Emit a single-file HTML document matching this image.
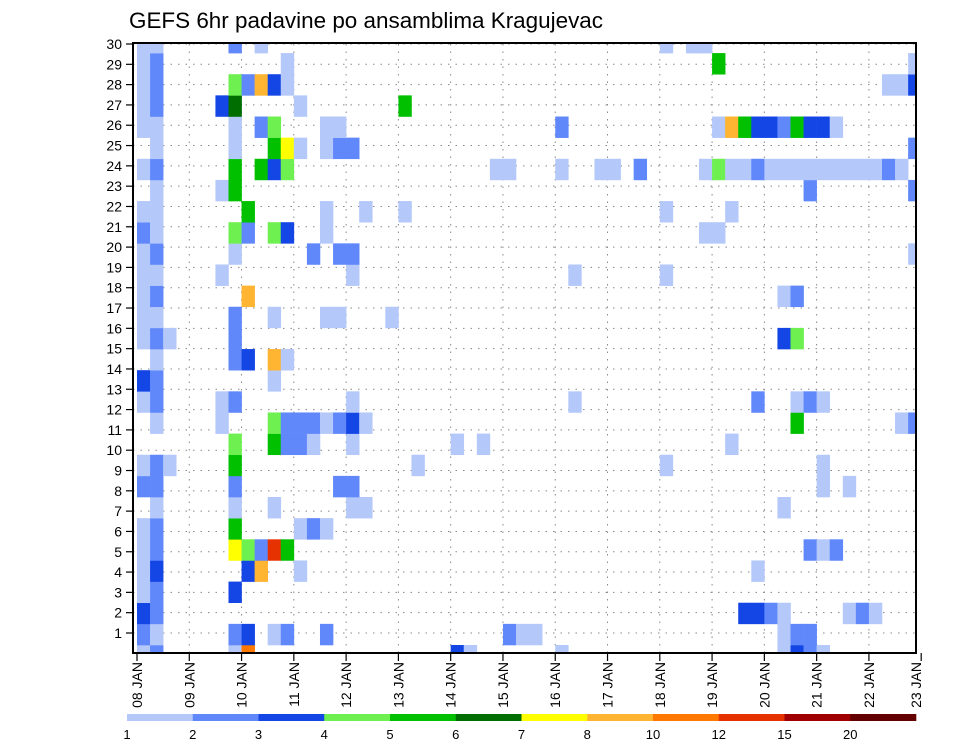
<!DOCTYPE html>
<html><head><meta charset="utf-8"><title>GEFS 6hr padavine</title>
<style>
html,body{margin:0;padding:0;background:#fff;}
svg{display:block;font-family:"Liberation Sans",sans-serif;}
</style></head>
<body>
<svg id="chart" width="960" height="742" viewBox="0 0 960 742">
<text x="129" y="28" font-size="22" fill="#000" textLength="474" lengthAdjust="spacingAndGlyphs">GEFS 6hr padavine po ansamblima Kragujevac</text>
<defs><clipPath id="plotclip"><rect x="133" y="43" width="783" height="610"/></clipPath></defs>
<g id="grid"></g>
<g id="cells" clip-path="url(#plotclip)"></g>
<rect x="133" y="43" width="783" height="610" fill="none" stroke="#000" stroke-width="2"/>
<g id="yaxis"></g>
<g id="xaxis"></g>
<g id="colorbar"></g>
</svg>
<script>
// ---- data ----
const dayLabels = ["08","09","10","11","12","13","14","15","16","17","18","19","20","21","22","23"];
const memberTicks = [1,2,3,4,5,6,7,8,9,10,11,12,13,14,15,16,17,18,19,20,21,22,23,24,25,26,27,28,29,30];
const levelBounds = [1,2,3,4,5,6,7,8,10,12,15,20];
const levelColors = ["#b4c8fa","#6088fa","#1446e6","#6ef050","#00c000","#006e00","#ffff00","#ffb432","#ff7800","#e63200","#a00000","#640000"];
// cells: [member, 6h step index from 08 JAN 00Z, precipitation mm]
const cellMember = [];
const cellStep = [];
const cellPrecip = [];
const rows = [
"0:0=1.5,1=2.5,7=1.5,8=11,24=3.5,25=1.5,32=1.5,49=1.5,50=3.5,51=2.5,52=1.5",
"1:0=2.5,1=1.5,7=2.5,8=3.5,10=1.5,11=2.5,14=2.5,28=2.5,29=1.5,30=1.5,49=1.5,50=2.5,51=2.5",
"2:0=3.5,1=2.5,46=3.5,47=3.5,48=2.5,49=1.5,54=1.5,55=2.5,56=1.5",
"3:0=1.5,1=2.5,7=3.5",
"4:0=1.5,1=3.5,8=3.5,9=9,12=1.5,47=1.5",
"5:0=1.5,1=2.5,7=7.5,8=4.5,9=2.5,10=13.5,11=5.5,51=2.5,52=1.5,53=2.5",
"6:0=1.5,1=2.5,7=5.5,12=1.5,13=2.5,14=1.5",
"7:1=1.5,7=1.5,10=1.5,16=1.5,17=1.5,49=1.5",
"8:0=2.5,1=2.5,7=2.5,15=2.5,16=2.5,52=1.5,54=1.5",
"9:0=1.5,1=2.5,2=1.5,7=5.5,21=1.5,40=1.5,52=1.5",
"10:7=4.5,10=5.5,11=2.5,12=2.5,13=1.5,16=1.5,24=1.5,26=1.5,45=1.5",
"11:1=1.5,6=1.5,10=4.5,11=2.5,12=2.5,13=2.5,14=1.5,15=2.5,16=3.5,17=1.5,50=5.5,58=1.5,59=2.5",
"12:0=1.5,1=2.5,6=1.5,7=2.5,16=1.5,33=1.5,47=2.5,50=1.5,51=2.5,52=1.5",
"13:0=3.5,1=2.5,10=1.5",
"14:1=1.5,7=2.5,8=3.5,10=9,11=1.5",
"15:0=1.5,1=2.5,2=1.5,7=2.5,49=3.5,50=4.5",
"16:0=1.5,1=1.5,7=2.5,10=1.5,14=1.5,15=1.5,19=1.5",
"17:0=1.5,1=2.5,8=9,49=1.5,50=2.5",
"18:0=1.5,1=1.5,6=1.5,16=1.5,33=1.5,40=1.5",
"19:0=1.5,1=2.5,7=1.5,13=2.5,15=2.5,16=2.5,59=1.5",
"20:0=2.5,1=1.5,7=4.5,8=2.5,10=4.5,11=3.5,14=1.5,43=1.5,44=1.5",
"21:0=1.5,1=1.5,8=5.5,14=1.5,17=1.5,20=1.5,40=1.5,45=1.5",
"22:1=1.5,6=1.5,7=5.5,51=2.5,59=2.5",
"23:0=1.5,1=2.5,7=5.5,9=5.5,10=3.5,11=4.5,27=1.5,28=1.5,32=1.5,35=1.5,36=1.5,38=2.5,43=1.5,44=4.5,45=1.5,46=1.5,47=2.5,48=1.5,49=1.5,50=1.5,51=1.5,52=1.5,53=1.5,54=1.5,55=1.5,56=1.5,57=2.5,58=1.5",
"24:1=1.5,7=1.5,10=5.5,11=7.5,12=1.5,14=1.5,15=2.5,16=2.5,59=2.5",
"25:0=1.5,1=1.5,7=1.5,9=2.5,10=4.5,14=1.5,15=1.5,32=2.5,44=1.5,45=9,46=5.5,47=3.5,48=3.5,49=2.5,50=5.5,51=3.5,52=3.5,53=1.5",
"26:0=1.5,1=2.5,6=3.5,7=6.5,12=1.5,20=5.5",
"27:0=1.5,1=2.5,7=4.5,8=2.5,9=9,10=3.5,11=1.5,57=1.5,58=1.5,59=3.5",
"28:0=1.5,1=2.5,11=1.5,44=5.5,59=1.5",
"29:0=1.5,1=1.5,7=2.5,9=1.5,40=1.5,42=1.5,43=1.5"
];
rows.forEach(r => {
  const [m, rest] = r.split(":");
  rest.split(",").forEach(p => {
    const [c, v] = p.split("=");
    cellMember.push(+m); cellStep.push(+c); cellPrecip.push(+v);
  });
});

// ---- scales ----
const NS = "http://www.w3.org/2000/svg";
const X0 = 137, STEPW = 13.07, DAYW = STEPW * 4;
const xStep = s => X0 + s * STEPW;
const xDay = d => X0 + d * DAYW;
const ROWH = 21.14, ROWBASE = 645;
const yCellTop = m => ROWBASE - m * ROWH;
const yTick = k => 653.3 - k * 20.31;
function colorFor(v){
  let idx = 0;
  for (let i = 0; i < levelBounds.length; i++) if (v >= levelBounds[i]) idx = i;
  return levelColors[idx];
}
function mk(tag, attrs, parent){
  const e = document.createElementNS(NS, tag);
  for (const k in attrs) e.setAttribute(k, attrs[k]);
  parent.appendChild(e); return e;
}

// grid
const grid = document.getElementById("grid");
memberTicks.forEach(k => {
  const l = mk("line", {x1:133, x2:916, y1:yTick(k), y2:yTick(k), stroke:"#888", "stroke-width":1, "stroke-dasharray":"1.5 6"}, grid);
  
  
});
dayLabels.forEach((d, i) => {
  if (i === 0 || i === dayLabels.length - 1) return;
  const l = mk("line", {x1:xDay(i), x2:xDay(i), y1:44, y2:653, stroke:"#888", "stroke-width":1, "stroke-dasharray":"1.5 6"}, grid);
  
  
});

// cells
const cg = document.getElementById("cells");
for (let i = 0; i < cellPrecip.length; i++) {
  const r = mk("rect", {x:xStep(cellStep[i]), y:yCellTop(cellMember[i]), width:STEPW + 0.3, height:ROWH + 0.3, fill:colorFor(cellPrecip[i])}, cg);
  
  
}

// y axis
const ya = document.getElementById("yaxis");
memberTicks.forEach(k => {
  const t = mk("line", {x1:126, x2:133, y1:yTick(k), y2:yTick(k), stroke:"#000", "stroke-width":1.2}, ya);
  
  
  const tx = mk("text", {x:122, y:yTick(k) + 5, "text-anchor":"end", "font-size":14, fill:"#000"}, ya);
  tx.textContent = k;
  
  
});

// x axis
const xa = document.getElementById("xaxis");
dayLabels.forEach((d, i) => {
  const x = xDay(i);
  const t = mk("line", {x1:x, x2:x, y1:653, y2:661, stroke:"#000", "stroke-width":1.2}, xa);
  
  
  const tx = mk("text", {x:0, y:0, "text-anchor":"end", "dominant-baseline":"central", "font-size":14, fill:"#000",
    transform:`translate(${Math.min(x, 916)},662) rotate(-90)`}, xa);
  tx.textContent = d + " JAN";
  
  
});

// colorbar
const cb = document.getElementById("colorbar");
const CB0 = 127, CBW = (916 - 127) / levelColors.length;
levelColors.forEach((c, i) => {
  const r = mk("rect", {x:CB0 + i * CBW, y:714, width:CBW + 0.3, height:7, fill:c}, cb);
  
  
});
levelBounds.forEach((b, i) => {
  const tx = mk("text", {x:CB0 + i * CBW, y:739, "text-anchor":"middle", "font-size":13, fill:"#000"}, cb);
  tx.textContent = b;
  
  
});
</script>
</body></html>
